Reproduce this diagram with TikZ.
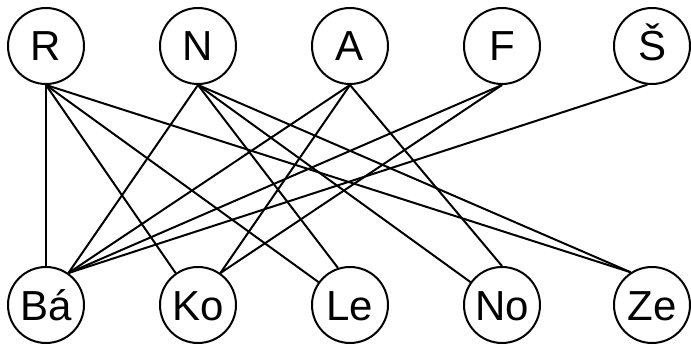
\documentclass[tikz,border=0pt]{standalone}
\usepackage{fontspec}
\setmainfont{Liberation Sans}
\begin{document}
\begin{tikzpicture}[x=1pt,y=-1pt,
  vtx/.style={circle,draw,line width=2pt,minimum size=76pt,inner sep=0pt,
    font=\fontsize{42}{42}\selectfont,text height=30pt,text depth=0pt},
  link/.style={line width=2pt}]
\useasboundingbox (0,0) rectangle (691,345);
\node[vtx] (R) at (46,46) {R};
\node[vtx] (N) at (198,46) {N};
\node[vtx] (A) at (350,46) {A};
\node[vtx] (F) at (502,46) {F};
\node[vtx] (S) at (652,46) {Š};
\node[vtx] (Ba) at (46,305) {Bá};
\node[vtx] (Ko) at (198,305) {Ko};
\node[vtx] (Le) at (350,305) {Le};
\node[vtx] (No) at (502,305) {No};
\node[vtx] (Ze) at (652,305) {Ze};
\draw[link] (R.south) -- (Ba.north);
\draw[link] (R.south) -- (Ko.125);
\draw[link] (R.south) -- (Le.144);
\draw[link] (R.south) -- (Ze.123);
\draw[link] (N.south) -- (Ba.55);
\draw[link] (N.south) -- (Le.108);
\draw[link] (N.south) -- (No.144);
\draw[link] (N.south) -- (Ze.123);
\draw[link] (A.south) -- (Ba.55);
\draw[link] (A.south) -- (Ko.55);
\draw[link] (A.south) -- (No.90);
\draw[link] (F.south) -- (Ba.55);
\draw[link] (F.south) -- (Ko.55);
\draw[link] (S.-97) -- (Ba.55);
\end{tikzpicture}
\end{document}
